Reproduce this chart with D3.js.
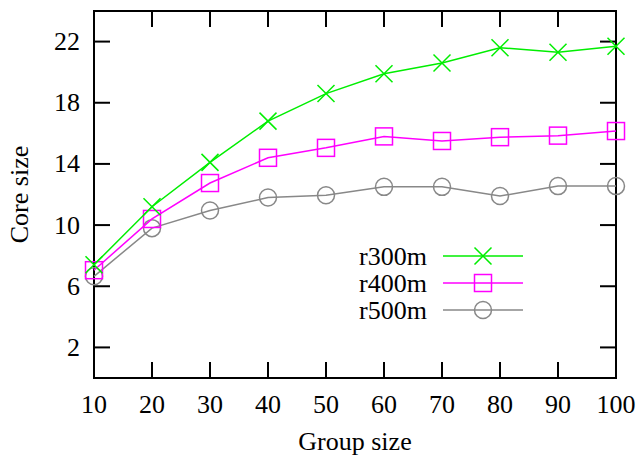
<!DOCTYPE html>
<html><head><meta charset="utf-8">
<script src="https://cdn.jsdelivr.net/npm/d3@7"></script>
<style>body{margin:0;background:#fff;} svg{display:block;} text{font-family:'Liberation Serif','Times New Roman',Times,serif;}</style>
</head><body>
<svg id="c" width="639" height="456"></svg>
<script>
const groupSizes = [10,20,30,40,50,60,70,80,90,100];
const r300m = [7.4,11.2,14.1,16.8,18.6,19.9,20.6,21.6,21.3,21.7];
const r400m = [7.05,10.4,12.75,14.4,15.05,15.8,15.5,15.75,15.85,16.15];
const r500m = [6.65,9.8,10.95,11.8,11.95,12.5,12.5,11.9,12.55,12.55];
const yTicks = [2,6,10,14,18,22];
const xTicks = [10,20,30,40,50,60,70,80,90,100];
const seriesNames = ["r300m","r400m","r500m"];

const svg = d3.select("#c");
const L=94, R=616, T=11, B=378;
const x = d3.scaleLinear().domain([10,100]).range([L,R]);
const y = d3.scaleLinear().domain([0,24]).range([B,T]);
const fs = 26;

const series = [
  {name:seriesNames[0], vals:r300m, color:"#00ee00", marker:"x"},
  {name:seriesNames[1], vals:r400m, color:"#ff00ff", marker:"sq"},
  {name:seriesNames[2], vals:r500m, color:"#888888", marker:"circ"}
];

// ticks (inward, mirrored)
const tl = 16;
const g = svg.append("g").attr("stroke","#000").attr("stroke-width",2);
yTicks.forEach(v=>{
  g.append("line").attr("x1",L).attr("x2",L+tl).attr("y1",y(v)).attr("y2",y(v));
  g.append("line").attr("x1",R).attr("x2",R-tl).attr("y1",y(v)).attr("y2",y(v));
});
xTicks.forEach(v=>{
  g.append("line").attr("x1",x(v)).attr("x2",x(v)).attr("y1",B).attr("y2",B-tl);
  g.append("line").attr("x1",x(v)).attr("x2",x(v)).attr("y1",T).attr("y2",T+tl);
});
g.append("rect").attr("x",L).attr("y",T).attr("width",R-L).attr("height",B-T).attr("fill","none");

// tick labels
svg.append("g").selectAll("text").data(yTicks).join("text")
  .attr("x",80).attr("y",d=>y(d)).attr("dy","0.33em").attr("text-anchor","end")
  .attr("font-size",fs).text(d=>d);
svg.append("g").selectAll("text").data(xTicks).join("text")
  .attr("x",d=>x(d)).attr("y",413).attr("text-anchor","middle")
  .attr("font-size",fs).text(d=>d);

// axis titles
svg.append("text").attr("x",(L+R)/2).attr("y",450).attr("text-anchor","middle")
  .attr("font-size",fs).text("Group size");
svg.append("text").attr("transform",`translate(28,${(T+B)/2}) rotate(-90)`).attr("text-anchor","middle")
  .attr("font-size",fs).text("Core size");

function drawMarker(sel, m, cx, cy, color){
  const s=8.5;
  if(m==="x"){
    sel.append("path").attr("d",`M${cx-s},${cy-s}L${cx+s},${cy+s}M${cx-s},${cy+s}L${cx+s},${cy-s}`)
      .attr("stroke",color).attr("stroke-width",1.5).attr("fill","none");
  } else if(m==="sq"){
    sel.append("rect").attr("x",cx-s).attr("y",cy-s).attr("width",2*s).attr("height",2*s)
      .attr("stroke",color).attr("stroke-width",1.5).attr("fill","none");
  } else {
    sel.append("circle").attr("cx",cx).attr("cy",cy).attr("r",s)
      .attr("stroke",color).attr("stroke-width",1.5).attr("fill","none");
  }
}

const line = d3.line().x((d,i)=>x(groupSizes[i])).y(d=>y(d));
series.slice().reverse().forEach(s=>{
  const gg = svg.append("g");
  gg.append("path").attr("d",line(s.vals)).attr("fill","none").attr("stroke",s.color).attr("stroke-width",1.5);
  s.vals.forEach((v,i)=>drawMarker(gg,s.marker,x(groupSizes[i]),y(v),s.color));
});

// legend
series.forEach((s,i)=>{
  const ly = 256 + i*27;
  svg.append("text").attr("x",427).attr("y",ly).attr("dy","0.33em").attr("text-anchor","end")
    .attr("font-size",fs).text(s.name);
  svg.append("line").attr("x1",443).attr("x2",523).attr("y1",ly).attr("y2",ly)
    .attr("stroke",s.color).attr("stroke-width",1.5);
  drawMarker(svg,s.marker,483,ly,s.color);
});
</script>
</body></html>
